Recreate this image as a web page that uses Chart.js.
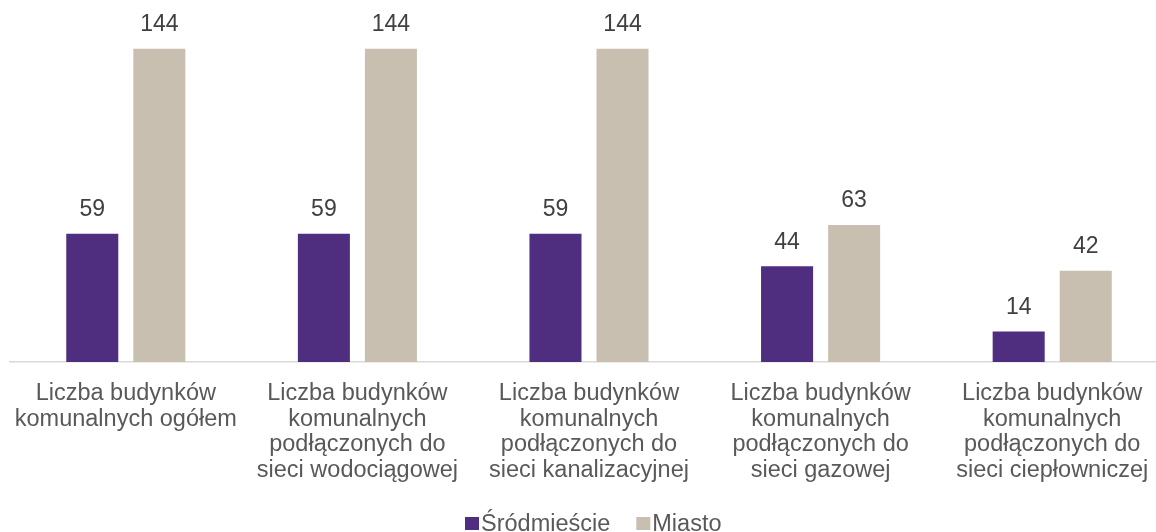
<!DOCTYPE html>
<html>
<head>
<meta charset="utf-8">
<script src="https://cdn.jsdelivr.net/npm/chart.js@4/dist/chart.umd.min.js"></script>
<style>
  html, body { margin: 0; padding: 0; background: #fff; overflow: hidden; }
  #wrap { position: relative; width: 1168px; height: 532px; }
</style>
</head>
<body>
<div id="wrap"><canvas id="c"></canvas></div>
<script>
const categories = [
  ["Liczba budynków", "komunalnych ogółem"],
  ["Liczba budynków", "komunalnych", "podłączonych do", "sieci wodociągowej"],
  ["Liczba budynków", "komunalnych", "podłączonych do", "sieci kanalizacyjnej"],
  ["Liczba budynków", "komunalnych", "podłączonych do", "sieci gazowej"],
  ["Liczba budynków", "komunalnych", "podłączonych do", "sieci ciepłowniczej"]
];
const seriesNames = ["Śródmieście", "Miasto"];
const srodmiescie = [59, 59, 59, 44, 14];
const miasto = [144, 144, 144, 63, 42];
const seriesColors = ['#4F2D7F', '#C8BFB0'];

const FONT = '"Liberation Sans", Arial, sans-serif';

const valueLabels = {
  id: 'valueLabels',
  afterDatasetsDraw(chart) {
    const ctx = chart.ctx;
    ctx.save();
    ctx.font = '23px ' + FONT;
    ctx.fillStyle = '#404040';
    ctx.textAlign = 'center';
    ctx.textBaseline = 'middle';
    chart.data.datasets.forEach((ds, i) => {
      const meta = chart.getDatasetMeta(i);
      meta.data.forEach((bar, j) => {
        ctx.fillText(String(ds.data[j]), bar.x, bar.y - 24);
      });
    });
    ctx.restore();
  }
};

const bottomLegend = {
  id: 'bottomLegend',
  afterDraw(chart) {
    const ctx = chart.ctx;
    ctx.save();
    ctx.font = '23.5px ' + FONT;
    ctx.textBaseline = 'alphabetic';
    ctx.textAlign = 'left';
    const box = 14, gapBoxText = 2, gapItems = 26;
    const widths = chart.data.datasets.map(ds => ctx.measureText(ds.label).width);
    let x = 465;
    const baseline = 531;
    chart.data.datasets.forEach((ds, i) => {
      ctx.fillStyle = ds.backgroundColor;
      ctx.fillRect(x, baseline - 14, box, 13);
      ctx.fillStyle = '#595959';
      ctx.fillText(ds.label, x + box + gapBoxText, baseline);
      x += box + gapBoxText + widths[i] + gapItems;
    });
    ctx.restore();
  }
};

new Chart(document.getElementById('c'), {
  type: 'bar',
  data: {
    labels: categories,
    datasets: [
      { label: seriesNames[0], data: srodmiescie, backgroundColor: seriesColors[0],
        categoryPercentage: 0.579, barPercentage: 0.776 },
      { label: seriesNames[1], data: miasto, backgroundColor: seriesColors[1],
        categoryPercentage: 0.579, barPercentage: 0.776 }
    ]
  },
  options: {
    responsive: true,
    maintainAspectRatio: false,
    animation: false,
    layout: { padding: { left: 10, right: 0, top: 14, bottom: 38 } },
    scales: {
      y: { display: false, min: 0, max: 160 },
      x: {
        grid: { display: false },
        border: { display: true, color: '#D9D9D9', width: 1.5 },
        ticks: {
          color: '#595959',
          font: { family: FONT, size: 23.5, lineHeight: 1.106 },
          maxRotation: 0,
          autoSkip: false,
          padding: 10
        }
      }
    },
    plugins: {
      legend: { display: false },
      tooltip: { enabled: false }
    }
  },
  plugins: [valueLabels, bottomLegend]
});
</script>
</body>
</html>
